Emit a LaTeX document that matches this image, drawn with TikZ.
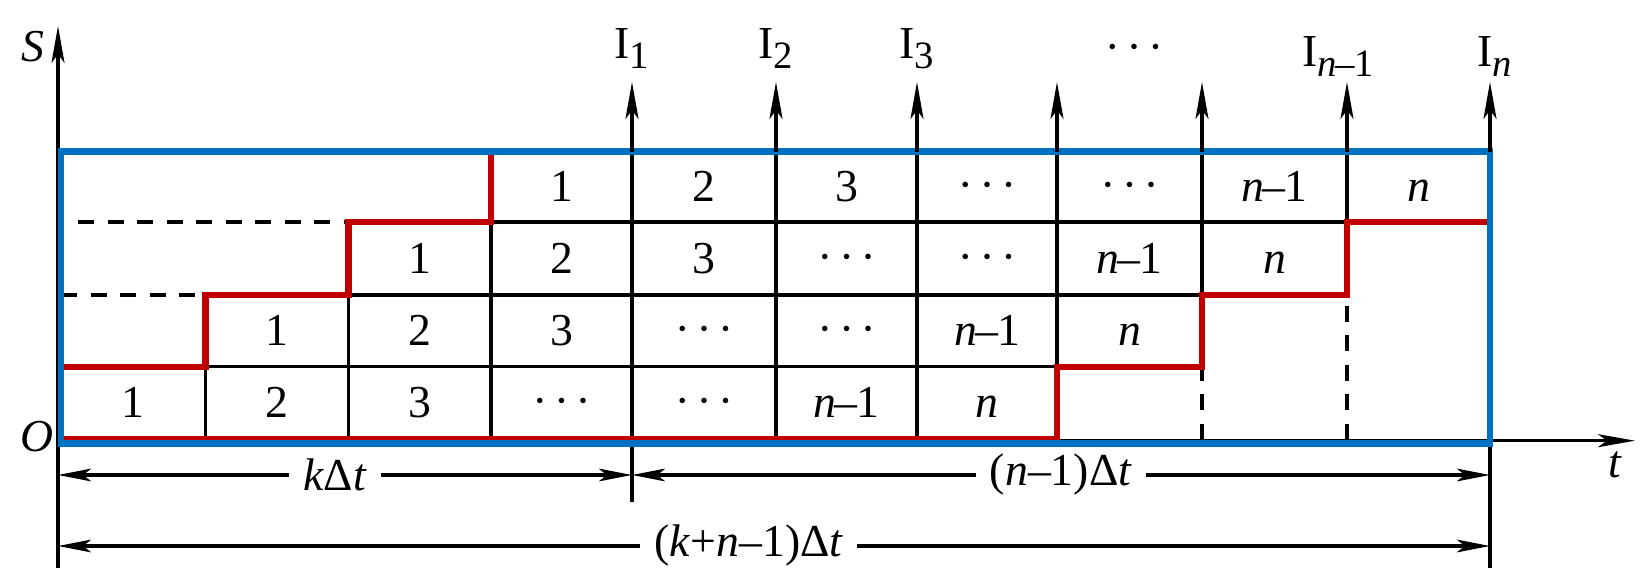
\documentclass[tikz,border=0pt]{standalone}
\usepackage{fontspec}
\usepackage{graphicx}
\setmainfont{Liberation Serif}
\usetikzlibrary{arrows.meta,calc}
\definecolor{myred}{RGB}{192,0,0}
\definecolor{myblue}{RGB}{0,112,192}
\newcommand{\mysub}[1]{\raisebox{-2.6pt}{\fontsize{11}{11}\selectfont #1}}
\newcommand{\nmo}{\textit{n}\kern-0.04em–\kern-0.02em1}
\newcommand{\onedot}{\raisebox{0.2em}{\scalebox{0.5}{•}}}
\newcommand{\mydots}{\onedot\kern0.3em\onedot\kern0.3em\onedot}
\begin{document}
\begin{tikzpicture}[x=0.01cm,y=-0.01cm, font=\fontsize{13}{15}\selectfont,
  blk/.style={line width=1pt, black},
  dsh/.style={blk, dash pattern=on 4.6pt off 3.8pt},
  redline/.style={line width=1.75pt, myred},
  blueline/.style={line width=1.9pt, myblue},
  axarr/.style={blk, -{Stealth[length=10.5pt,width=3.7pt,inset=2.5pt]}},
  dimarr/.style={blk, {Stealth[length=9.4pt,width=3.6pt,inset=2.3pt]}-{Stealth[length=9.4pt,width=3.6pt,inset=2.3pt]}},
  cell/.style={anchor=base, inner sep=0pt},
  lab/.style={anchor=base, inner sep=0pt},
  dimlab/.style={fill=white, inner xsep=4pt, inner ysep=1pt},
]
\useasboundingbox (0,0) rectangle (1641,579);
% grid coordinates
\foreach \i/\x in {0/61,1/205.5,2/348.5,3/491,4/632,5/776,6/917,7/1057,8/1202,9/1347,10/1490}
  \coordinate (c\i) at (\x,0);
\foreach \j/\y in {0/440,1/366.7,2/295,3/222,4/152}
  \coordinate (r\j) at (0,\y);
\foreach \j/\y in {1/418,2/346,3/273.5,4/202}
  \coordinate (b\j) at (0,\y);
\foreach \i [evaluate=\i as \p using int(\i-1)] in {1,...,10}
  \coordinate (m\i) at ($(c\p)!0.5!(c\i)$);
\coordinate (top) at (0,82);
\coordinate (tick) at (0,502);
\coordinate (ext) at (0,568);
\coordinate (rb) at (0,439);
\coordinate (dstart) at (78,222);
% axes
\coordinate (Sb) at (58,568);
\coordinate (St) at (58,26);
\coordinate (Ta) at (58,440.7);
\coordinate (Te) at (1635,440.7);
\draw[axarr] (Sb) -- (St);
\draw[axarr] (Ta) -- (Te);
% black grid
\draw[blk] (c1|-r0) -- (c1|-r1);
\draw[blk] (c2|-r0) -- (c2|-r2);
\draw[blk] (c3|-r0) -- (c3|-r3);
\draw[blk] (c4|-tick) -- (c4|-r4);
\draw[blk] (c5|-r0) -- (c5|-r4);
\draw[blk] (c6|-r0) -- (c6|-r4);
\draw[blk] (c7|-r1) -- (c7|-r4);
\draw[blk] (c8|-r2) -- (c8|-r4);
\draw[blk] (c9|-r3) -- (c9|-r4);
\draw[dsh] (c8|-r0) -- (c8|-r1);
\draw[dsh] (c9|-r0) -- (c9|-r2);
\draw[blk] (c10|-r0) -- (c10|-ext);
\draw[blk] (c1|-r1) -- (c7|-r1);
\draw[blk] (c2|-r2) -- (c8|-r2);
\draw[blk] (c3|-r3) -- (c9|-r3);
\draw[dsh] (c0|-r2) -- (c1|-r2);
\draw[dsh] (dstart) -- (c2|-r3);
% red staircase
\draw[redline] (c0|-r1) -- (c1|-r1) -- (c1|-r2) -- (c2|-r2) -- (c2|-r3) -- (c3|-r3) -- (c3|-r4);
\draw[redline] (c0|-rb) -- (c7|-rb) -- (c7|-r1) -- (c8|-r1) -- (c8|-r2) -- (c9|-r2) -- (c9|-r3) -- (c10|-r3) -- (c10|-r4);
% blue frame
\coordinate (B1) at (61,151.5);
\coordinate (B2) at (1490,443.5);
\draw[blueline] (B1) rectangle (B2);
% upward arrows
\foreach \i in {4,...,10}
  \draw[axarr] (c\i|-r4) -- (c\i|-top);
% cell texts
\foreach \c/\r/\t in {1/1/1,2/1/2,3/1/3,4/1/\mydots,5/1/\mydots,6/1/\nmo,7/1/\textit{n},
                      2/2/1,3/2/2,4/2/3,5/2/\mydots,6/2/\mydots,7/2/\nmo,8/2/\textit{n},
                      3/3/1,4/3/2,5/3/3,6/3/\mydots,7/3/\mydots,8/3/\nmo,9/3/\textit{n},
                      4/4/1,5/4/2,6/4/3,7/4/\mydots,8/4/\mydots,9/4/\nmo,10/4/\textit{n}}
  \node[cell] (t-\c-\r) at (m\c|-b\r) {\t};
% axis labels
\node[lab] (S) at (32.5,62) {\textit{S}};
\node[lab] (O) at (37,452) {\textit{O}};
\node[lab] (T) at (1615,478) {\textit{t}};
% top labels
\node[lab] (I1) at (632,59) {I\mysub{1}};
\node[lab] (I2) at (776,59) {I\mysub{2}};
\node[lab] (I3) at (916.5,59) {I\mysub{3}};
\node[lab] (Id) at (1134,64) {\mydots};
\node[lab] (In1) at (1338,67) {I\mysub{\textit{n}\kern-0.04em–\kern-0.02em1}};
\node[lab] (In) at (1495,67) {I\mysub{\textit{n}}};
% dimension lines
\coordinate (dk1) at (58,475);
\coordinate (dk2) at (632,475);
\coordinate (dn2) at (1490,475);
\coordinate (dl1) at (58,546);
\coordinate (dl2) at (1490,546);
\draw[dimarr] (dk1) -- node[dimlab,pos=0.4826] (kdt) {\textit{k}Δ\textit{t}} (dk2);
\draw[dimarr] (dk2) -- node[dimlab] (ndt) {(\textit{n}–1)Δ\textit{t}} (dn2);
\draw[dimarr] (dl1) -- node[dimlab,pos=0.4825] (kndt) {(\textit{k}+\textit{n}–1)Δ\textit{t}} (dl2);
\end{tikzpicture}
\end{document}
